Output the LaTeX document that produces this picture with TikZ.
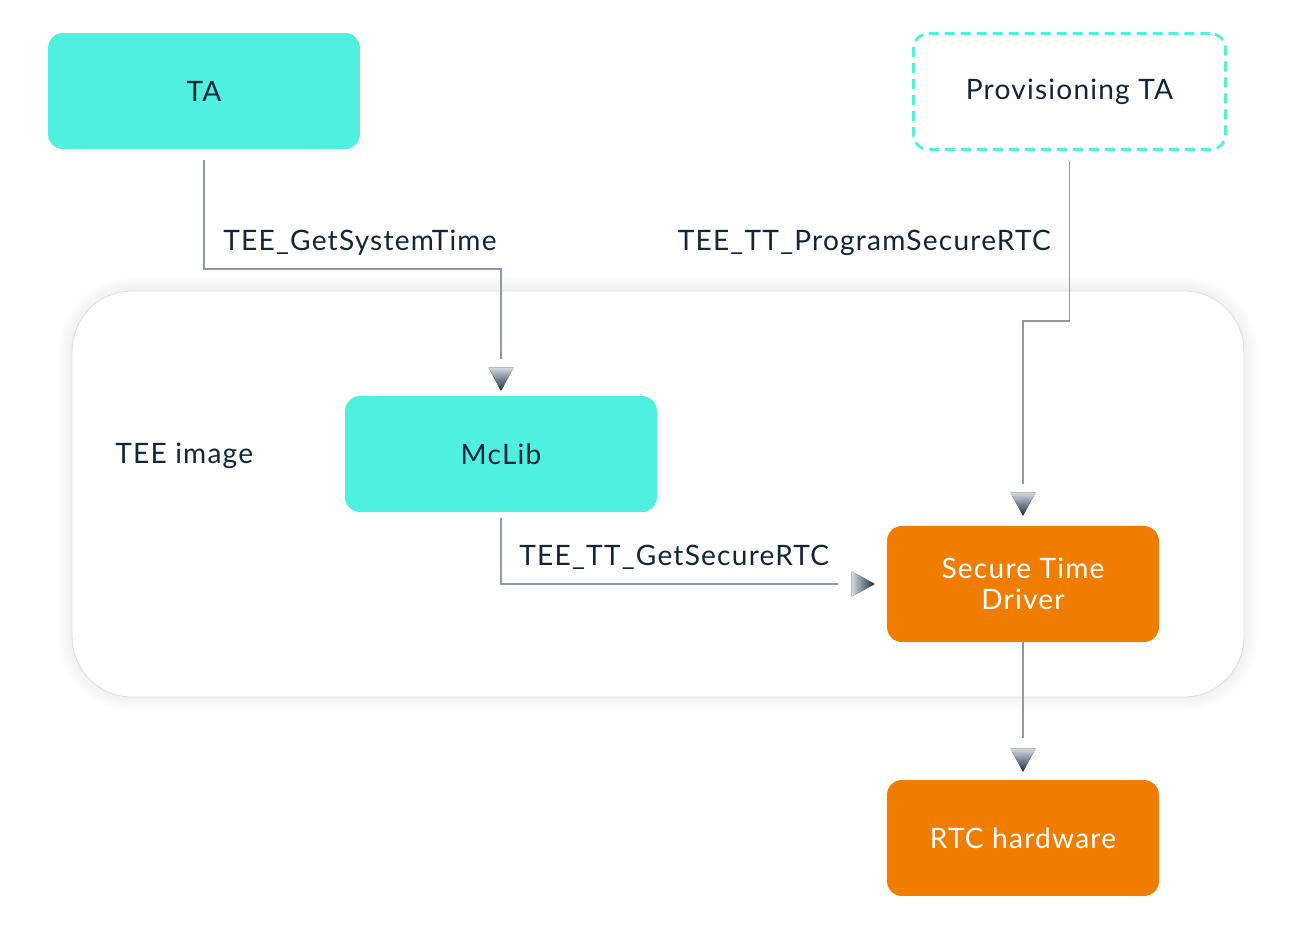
\documentclass[tikz,border=0pt]{standalone}
\usepackage{fontspec}
\setmainfont{Lato}[LetterSpace=4.3]
\definecolor{turq}{HTML}{50F0E0}
\definecolor{ornge}{HTML}{F07D00}
\definecolor{navy}{HTML}{10263B}
\definecolor{wire}{HTML}{8C9AA6}
\definecolor{tipdark}{HTML}{182D40}
\definecolor{tipmid}{HTML}{4E6070}
\definecolor{tiplight}{HTML}{D3D9DE}
\tikzset{
box/.style={rounded corners=0.3cm, minimum width=6.24cm, minimum height=2.32cm,
  text=navy, font=\fontsize{16}{18}\selectfont, align=center},
tabox/.style={box, fill=turq},
provbox/.style={box, draw=turq, line width=1.6pt, dash pattern=on 5.7pt off 3.4pt},
drvbox/.style={box, fill=ornge, text=white, minimum width=5.44cm},
teebox/.style={draw=black!14, fill=white, rounded corners=1.2cm,
  minimum width=23.44cm, minimum height=8.12cm},
lbl/.style={text=navy, font=\fontsize{16}{20}\selectfont, inner sep=0pt},
link/.style={draw=wire, line width=1.1pt},
tipdown/.pic={
  \fill[top color=tiplight, middle color=tipmid, bottom color=tipdark]
    (-12.5,-23) -- (12.5,-23) -- (0,0) -- cycle;
  },
tipright/.pic={
  \fill[left color=tiplight, middle color=tipmid, right color=tipdark]
    (-23,-12.5) -- (-23,12.5) -- (0,0) -- cycle;
  }
}

\begin{document}
\begin{tikzpicture}[x=0.02cm, y=-0.02cm]
\fill[white] (0,0) rectangle (1316,929);
\useasboundingbox (0,0) rectangle (1316,929);

\foreach \w in {2,4,...,28}
  \draw[black, opacity=0.0045, line width=\w*0.6pt, rounded corners=1.2cm]
    (72,291) rectangle (1244,697);
\node[teebox] (tee) at (658,494) {};

\node[tabox] (ta) at (204,91) {TA};
\node[provbox] (prov) at (1069.5,91.5) {Provisioning TA};
\node[tabox] (mclib) at (501,454) {McLib};
\node[drvbox] (std) at (1023,584) {Secure Time\\Driver};
\node[drvbox] (rtc) at (1023,838) {RTC hardware};
\node[lbl, anchor=base west] (teelbl) at (115,463) {TEE image};

\draw[link] ([yshift=-0.22cm]ta.south) |- ([yshift=2.54cm]mclib.north)
  -- ([yshift=0.74cm]mclib.north);
\pic at ([yshift=0.1cm]mclib.north) {tipdown};
\node[lbl, anchor=base west] (getsys) at (223,251) {TEE\_GetSystemTime};

\draw[link] ([yshift=-0.2cm]prov.south) |- ([yshift=4.1cm]std.north)
  -- ([yshift=0.84cm]std.north);
\pic at ([yshift=0.2cm]std.north) {tipdown};
\node[lbl, anchor=base east] (progrtc) at (1051,251) {TEE\_TT\_ProgramSecureRTC};

\draw[link] ([yshift=-0.12cm]mclib.south) |- ([xshift=-0.98cm]std.west);
\pic at ([xshift=-0.24cm]std.west) {tipright};
\node[lbl, anchor=base west] (getrtc) at (519,565) {TEE\_TT\_GetSecureRTC};

\draw[link] (std.south) -- ([yshift=0.84cm]rtc.north);
\pic at ([yshift=0.16cm]rtc.north) {tipdown};
\end{tikzpicture}
\end{document}
